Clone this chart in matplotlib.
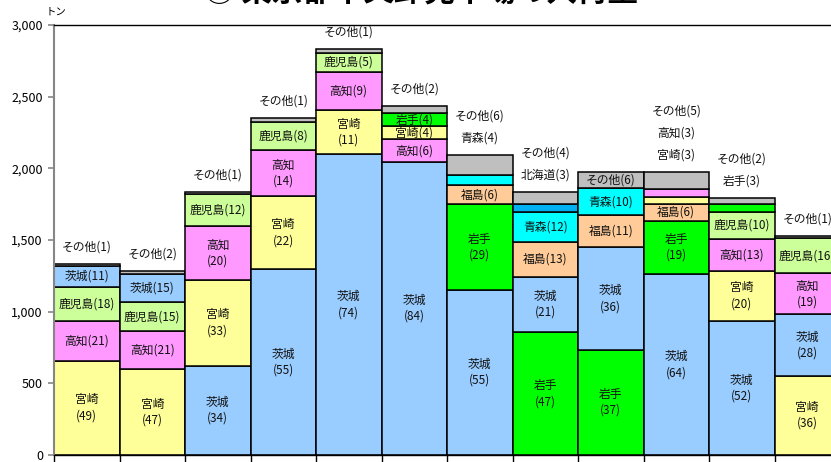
import matplotlib
matplotlib.use('agg')
import matplotlib.pyplot as plt

plt.rcParams['font.family'] = ['Noto Sans CJK JP', 'DejaVu Sans']

# producing prefecture colours
colors = {
    "茨城": "#99CCFF",
    "宮崎": "#FFFF99",
    "高知": "#FF99FF",
    "鹿児島": "#CCFF99",
    "岩手": "#00FF00",
    "福島": "#FFCC99",
    "青森": "#00FFFF",
    "北海道": "#00B0F0",
    "その他": "#BFBFBF",
}

# each bar, bottom to top: region, tonnes, share (%)
regions = [
    ["宮崎", "高知", "鹿児島", "茨城", "その他"],
    ["宮崎", "高知", "鹿児島", "茨城", "その他"],
    ["茨城", "宮崎", "高知", "鹿児島", "その他"],
    ["茨城", "宮崎", "高知", "鹿児島", "その他"],
    ["茨城", "宮崎", "高知", "鹿児島", "その他"],
    ["茨城", "高知", "宮崎", "岩手", "その他"],
    ["茨城", "岩手", "福島", "青森", "その他"],
    ["岩手", "茨城", "福島", "青森", "北海道", "その他"],
    ["岩手", "茨城", "福島", "青森", "その他"],
    ["茨城", "岩手", "福島", "宮崎", "高知", "その他"],
    ["茨城", "宮崎", "高知", "鹿児島", "岩手", "その他"],
    ["宮崎", "茨城", "高知", "鹿児島", "その他"],
]
tons = [
    [656, 281, 237, 145, 16],
    [598, 267, 201, 195, 23],
    [621, 600, 375, 223, 16],
    [1298, 507, 321, 198, 28],
    [2098, 307, 265, 137, 26],
    [2045, 158, 93, 88, 51],
    [1151, 598, 135, 72, 139],
    [856, 388, 240, 214, 53, 82],
    [733, 716, 223, 189, 112],
    [1261, 374, 114, 54, 51, 119],
    [935, 349, 226, 184, 55, 47],
    [551, 431, 286, 244, 16],
]
shares = [
    [49, 21, 18, 11, 1],
    [47, 21, 15, 15, 2],
    [34, 33, 20, 12, 1],
    [55, 22, 14, 8, 1],
    [74, 11, 9, 5, 1],
    [84, 6, 4, 4, 2],
    [55, 29, 6, 4, 6],
    [47, 21, 13, 12, 3, 4],
    [37, 36, 11, 10, 6],
    [64, 19, 6, 3, 3, 5],
    [52, 20, 13, 10, 3, 2],
    [36, 28, 19, 16, 1],
]
# labels written above the bar instead of inside (top line first)
labels_above = [
    ["その他"], ["その他"], ["その他"], ["その他"], ["その他"], ["その他"],
    ["その他", "青森"], ["その他", "北海道"], [],
    ["その他", "高知", "宮崎"], ["その他", "岩手"], ["その他"],
]

fig = plt.figure(figsize=(8.31, 4.62), dpi=100)
ax = fig.add_axes([54 / 831, 7 / 462, 786 / 831, 430 / 462])

for i in range(len(regions)):
    bottom = 0
    for name, val, pct in zip(regions[i], tons[i], shares[i]):
        ax.bar(i + 0.5, val, bottom=bottom, width=1, color=colors[name],
               edgecolor='black', linewidth=1.1)
        if name not in labels_above[i]:
            if val >= 284:
                txt = "%s\n(%d)" % (name, pct)
            else:
                txt = "%s(%d)" % (name, pct)
            ax.text(i + 0.5, bottom + val / 2, txt, ha='center', va='center',
                    fontsize=8.5, linespacing=1.3, color='#111111')
        bottom += val
    # stacked labels above the bar
    above = labels_above[i]
    for k, name in enumerate(above):
        pct = shares[i][regions[i].index(name)]
        off = 17 + 22 * (len(above) - 1 - k)
        ax.annotate("%s(%d)" % (name, pct), (i + 0.5, bottom),
                    xytext=(0, off), textcoords='offset pixels',
                    ha='center', va='center', fontsize=8.5, color='#111111')

ax.set_xlim(0, 12)
ax.set_ylim(0, 3000)
ax.set_yticks(range(0, 3001, 500))
ax.set_yticklabels(["{:,}".format(v) for v in range(0, 3001, 500)], fontsize=9)
ax.set_xticks(range(13))
ax.set_xticklabels([])
ax.tick_params(axis='y', length=4, color='#868686', width=1.2, pad=4)
ax.tick_params(axis='x', length=8, color='black', width=1)
ax.spines['left'].set_color('#868686')
ax.spines['left'].set_linewidth(1.5)
ax.spines['top'].set_linewidth(1)
ax.spines['bottom'].set_linewidth(1)
ax.spines['right'].set_visible(False)

fig.text(0.507, 1 - 1 / 462, "② 東京都中央卸売市場の入荷量", fontsize=22,
         fontweight='bold', ha='center', va='baseline')
fig.text(56 / 831, 1 - 12 / 462, "トン", fontsize=7.5, ha='center', va='center')

fig.savefig('out.png')
